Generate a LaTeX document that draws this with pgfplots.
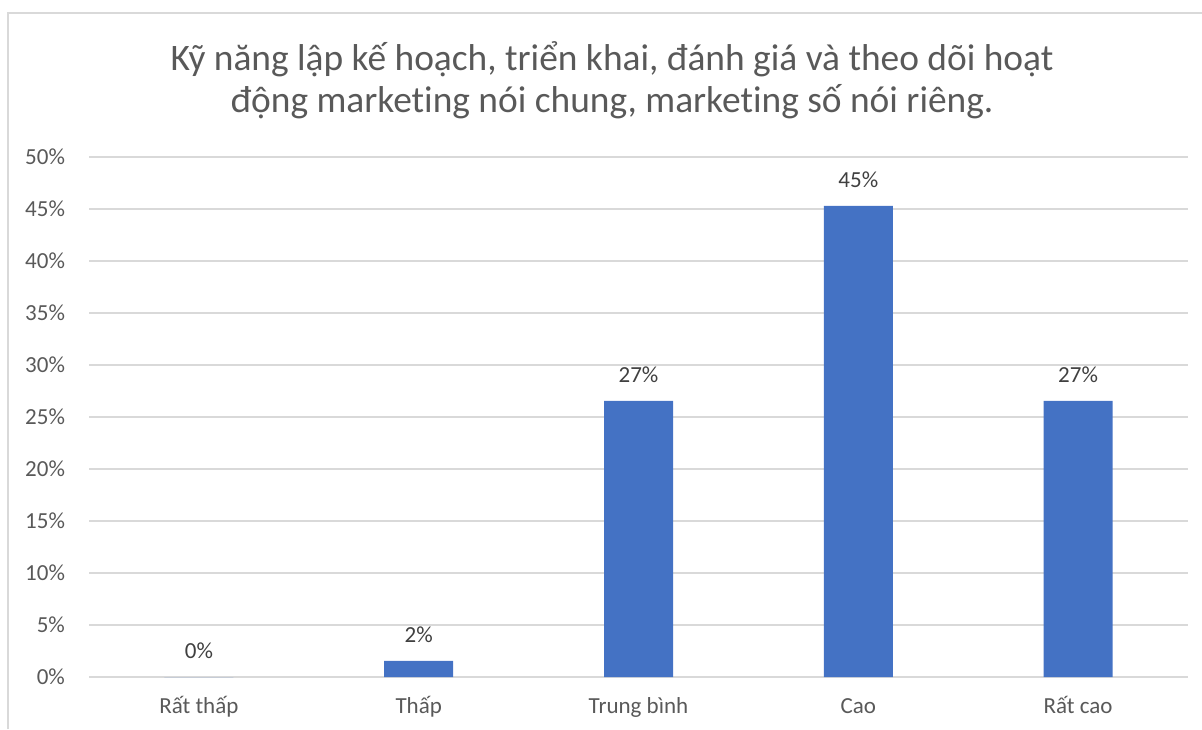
\documentclass[border=0pt]{standalone}
\usepackage{fontspec}
\setmainfont{Carlito}[Ligatures=NoCommon]
\usepackage{pgfplots}
\pgfplotsset{compat=1.18}
\definecolor{barblue}{HTML}{4472C4}
\definecolor{gridgray}{HTML}{D9D9D9}
\definecolor{textgray}{HTML}{595959}
\definecolor{labelgray}{HTML}{404040}
\begin{document}
\begin{tikzpicture}
\useasboundingbox (0,0) rectangle (601pt,364.5pt);
\draw[gridgray, line width=1pt] (4pt,0) -- (4pt,358pt) -- (601pt,358pt);
\node[align=center, text=textgray, font=\fontsize{18.7pt}{21pt}\selectfont] at (306pt,324.5pt)
  {Kỹ năng lập kế hoạch, triển khai, đánh giá và theo dõi hoạt\\động marketing nói chung, marketing số nói riêng.};
\begin{axis}[
    at={(44.5pt,26pt)},
    anchor=south west,
    scale only axis,
    width=549.5pt,
    height=260pt,
    ybar,
    bar width=34.5pt,
    xmin=-0.5, xmax=4.5,
    ymin=0, ymax=50,
    xtick=data,
    xticklabels={Rất thấp,Thấp,Trung bình,Cao,Rất cao},
    ytick={0,5,...,50},
    yticklabel={\pgfmathprintnumber{\tick}\%},
    /pgf/number format/assume math mode=true,
    axis line style={draw=none},
    ymajorgrids,
    grid style={gridgray, line width=1pt},
    major tick length=0pt,
    tick label style={text=textgray, font=\fontsize{11.5pt}{13pt}\selectfont},
    xticklabel style={text height=8.5pt, text depth=2.5pt, yshift=-6pt},
    yticklabel style={xshift=-8.5pt},
    nodes near coords={\pgfmathprintnumber[fixed,precision=0]{\pgfplotspointmeta}\%},
    nodes near coords style={text=labelgray, font=\fontsize{11.5pt}{13pt}\selectfont, /pgf/number format/assume math mode=true, yshift=5.5pt},
]
\addplot[fill=barblue, draw=none] coordinates {(0,0) (1,1.5625) (2,26.5625) (3,45.3125) (4,26.5625)};
\end{axis}
\end{tikzpicture}
\end{document}
